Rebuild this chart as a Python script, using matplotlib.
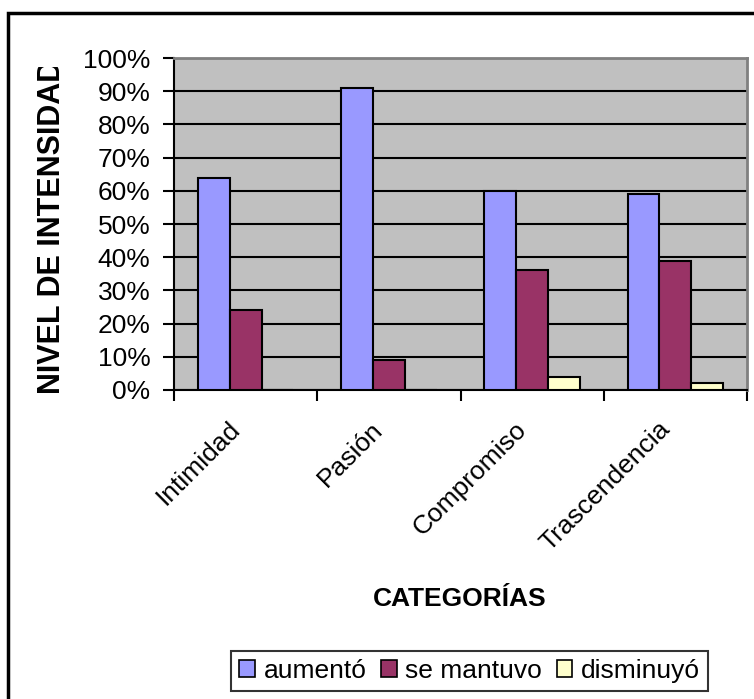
import matplotlib
matplotlib.use('Agg')
import matplotlib.pyplot as plt
import matplotlib.patches as mpatches
from matplotlib.transforms import Bbox, ScaledTranslation
import numpy as np

plt.rcParams['font.family'] = ['Liberation Sans', 'DejaVu Sans']

categorias = ['Intimidad', 'Pasión', 'Compromiso', 'Trascendencia']
series = ['aumentó', 'se mantuvo', 'disminuyó']
aumento = [64, 91, 60, 59]
se_mantuvo = [24, 9, 36, 39]
disminuyo = [0, 0, 4, 2]
colores = ['#9999FF', '#993366', '#FFFFCC']
y_ticks = [0, 10, 20, 30, 40, 50, 60, 70, 80, 90, 100]

W, H = 754, 699
FS = 19
fig = plt.figure(figsize=(W / 100, H / 100), dpi=100)
ax = fig.add_axes([174 / W, 1 - 390 / H, (747 - 174) / W, (390 - 58) / H])
ax.set_facecolor('#C0C0C0')

x = np.arange(len(categorias))
ancho = 1 / 4.5
for i, (vals, col) in enumerate(zip([aumento, se_mantuvo, disminuyo], colores)):
    ax.bar(x + (i - 1) * ancho, vals, width=ancho, color=col,
           edgecolor='black', linewidth=1.5, label=series[i], zorder=3)

ax.set_ylim(0, 100)
ax.set_xlim(-0.5, len(categorias) - 0.5)
ax.set_yticks(y_ticks)
ax.set_yticklabels([f'{v}%' for v in y_ticks], fontsize=FS)
ax.yaxis.grid(True, color='black', linewidth=1.5, zorder=1)
ax.set_axisbelow(True)

# ticks between categories, labels at the centres
ax.set_xticks(np.arange(len(categorias) + 1) - 0.5)
ax.set_xticklabels([])
ax.set_xticks(x, minor=True)
ax.set_xticklabels(categorias, minor=True, rotation=45, ha='right', va='top',
                   rotation_mode='anchor', fontsize=FS)
ax.tick_params(axis='x', which='minor', length=0, pad=19.5)
ax.tick_params(axis='x', which='major', length=8, width=1.5, direction='out')
ax.tick_params(axis='y', length=8, width=1.5, direction='out', pad=9)
desplaza = ScaledTranslation(-18 / 100, 0, fig.dpi_scale_trans)
for lab in ax.get_xticklabels(minor=True):
    lab.set_transform(lab.get_transform() + desplaza)

for lado in ['top', 'right']:
    ax.spines[lado].set_color('#808080')
    ax.spines[lado].set_linewidth(2)
for lado in ['left', 'bottom']:
    ax.spines[lado].set_color('black')
    ax.spines[lado].set_linewidth(1.5)

fig.text(460 / W, 1 - 599 / H, 'CATEGORÍAS', fontsize=FS, fontweight='bold',
         ha='center', va='center')
# the axis title runs past the top of its box and gets cut there
yl = fig.text(52 / W, 1 - 394 / H, 'NIVEL DE INTENSIDAD', fontsize=22,
              fontweight='bold', rotation=90, ha='center', va='bottom')
yl.set_clip_box(Bbox.from_extents(0, 0, W, H - 67))

handles = [mpatches.Patch(facecolor=c, edgecolor='black', linewidth=1.2) for c in colores]
leg = fig.legend(handles, series, loc='center', bbox_to_anchor=(469.5 / W, 1 - 671 / H),
                 ncol=3, fontsize=FS, frameon=True, fancybox=False,
                 handlelength=0.6, handleheight=0.6, handletextpad=0.33,
                 columnspacing=0.55, borderpad=0.3, borderaxespad=0)
leg.get_frame().set_edgecolor('black')
leg.get_frame().set_linewidth(1.5)

# outer chart border
fig.add_artist(mpatches.Rectangle((7.5 / W, -0.1), 1.2, 1 - 13 / H + 0.1,
                                  transform=fig.transFigure, fill=False,
                                  edgecolor='black', linewidth=2.5))

fig.savefig('out.png', dpi=100)
